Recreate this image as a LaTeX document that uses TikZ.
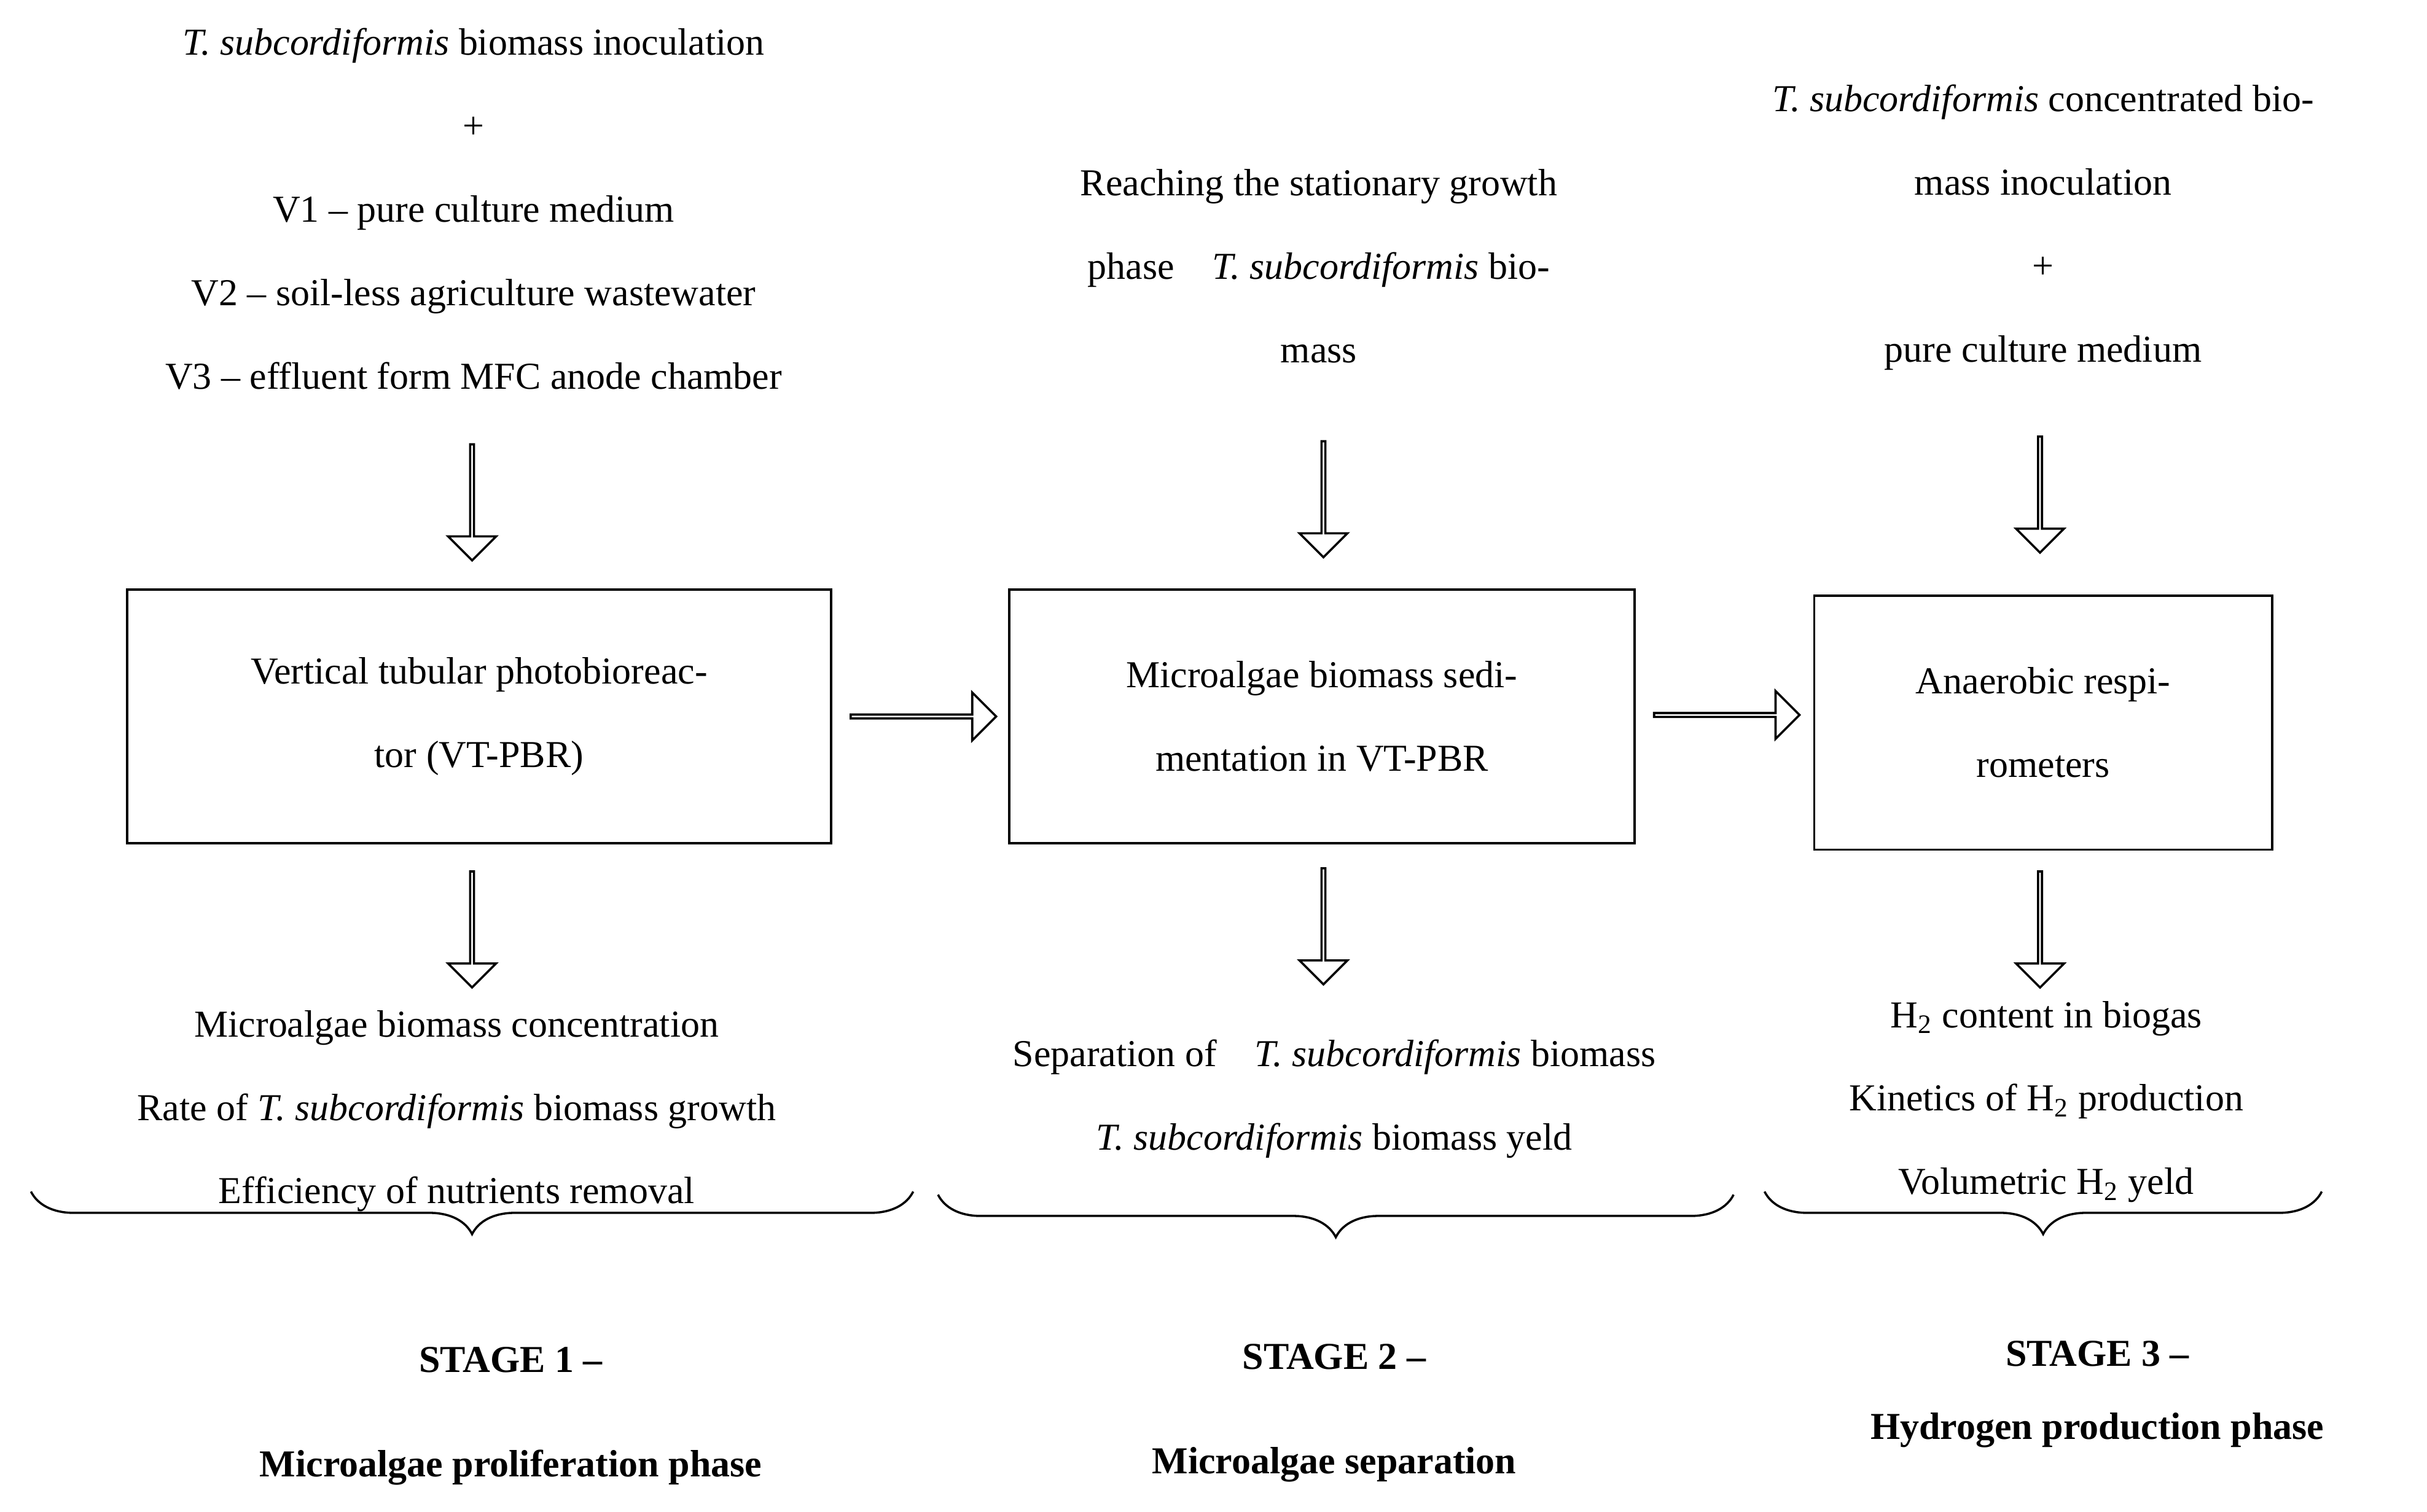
\documentclass[tikz,border=0pt]{standalone}
\usepackage{fontspec}
\setmainfont{Liberation Serif}
\usetikzlibrary{shapes.arrows,decorations.pathreplacing,positioning}
\begin{document}
\begin{tikzpicture}[x=0.02cm, y=-0.02cm,
    txt/.style={align=center, inner sep=0pt, font=\fontsize{14}{30.7}\selectfont},
    stage/.style={align=center, inner sep=0pt, font=\fontsize{14}{27}\selectfont\bfseries},
    box/.style={rectangle, draw, thick, align=center, inner sep=0pt, font=\fontsize{14}{30.7}\selectfont},
    hollow/.style={single arrow, draw, thick, inner sep=0pt, minimum width=0.62cm,
        single arrow head extend=0.16cm, single arrow tip angle=90, shape border uses incircle=false},
    brace/.style={decorate, decoration={brace, mirror, amplitude=0.55cm}, thick}
]
    \useasboundingbox (0,0) rectangle (1568,977);

    % Stage 1
    \node[txt] (in1) at (306,135) {\textit{T. subcordiformis} biomass inoculation\\+\\V1 -- pure culture medium\\V2 -- soil-less agriculture wastewater\\V3 -- effluent form MFC anode chamber};
    \node[box, minimum width=9.1cm, minimum height=3.28cm] (vt) at (309.5,463) {Vertical tubular photobioreac-\\tor (VT-PBR)};
    \node[txt] (out1) at (295,718) {Microalgae biomass concentration\\Rate of \textit{T. subcordiformis} biomass growth\\Efficiency of nutrients removal};
    \node[stage] (s1) at (330,915) {STAGE 1 --\\[0.4cm]Microalgae proliferation phase};

    % Stage 2
    \node[txt] (in2) at (852,172) {Reaching the stationary growth\\phase\quad \textit{T. subcordiformis} bio-\\mass};
    \node[box, minimum width=8.08cm, minimum height=3.28cm] (sed) at (854,463) {Microalgae biomass sedi-\\mentation in VT-PBR};
    \node[txt] (out2) at (862,710) {Separation of\quad \textit{T. subcordiformis} biomass\\\textit{T. subcordiformis} biomass yeld};
    \node[stage] (s2) at (862,913) {STAGE 2 --\\[0.4cm]Microalgae separation};

    % Stage 3
    \node[txt] (in3) at (1320,147) {\textit{T. subcordiformis} concentrated bio-\\mass inoculation\\+\\pure culture medium};
    \node[box, minimum width=5.92cm, minimum height=3.28cm] (resp) at (1320,467) {Anaerobic respi-\\rometers};
    \node[txt] (out3) at (1322,712) {H\textsubscript{2} content in biogas\\Kinetics of H\textsubscript{2} production\\Volumetric H\textsubscript{2} yeld};
    \node[stage] (s3) at (1355,901) {STAGE 3 --\\Hydrogen production phase};

    % Hollow arrows
    \node[hollow, rotate=-90, minimum height=1.5cm] (a1) at (305,324) {};
    \node[hollow, rotate=-90, minimum height=1.5cm] (a2) at (855,322) {};
    \node[hollow, rotate=-90, minimum height=1.5cm] (a3) at (1318,319) {};
    \node[hollow, rotate=-90, minimum height=1.5cm] (b1) at (305,600) {};
    \node[hollow, rotate=-90, minimum height=1.5cm] (b2) at (855,598) {};
    \node[hollow, rotate=-90, minimum height=1.5cm] (b3) at (1318,600) {};
    \node[hollow, minimum height=1.88cm] (h1) at (596,463) {};
    \node[hollow, minimum height=1.88cm] (h2) at (1115,462) {};

    % Braces
    \coordinate (l1) at (20,770);  \coordinate (r1) at (590,770);
    \coordinate (l2) at (606,772); \coordinate (r2) at (1120,772);
    \coordinate (l3) at (1140,770); \coordinate (r3) at (1500,770);
    \draw[brace] (l1) -- (r1);
    \draw[brace] (l2) -- (r2);
    \draw[brace] (l3) -- (r3);
\end{tikzpicture}
\end{document}
